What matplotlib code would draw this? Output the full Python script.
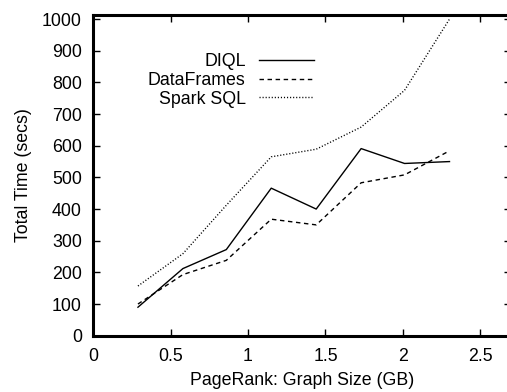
import matplotlib
matplotlib.use("Agg")
import matplotlib.pyplot as plt

plt.rcParams['font.family'] = ['Liberation Sans', 'DejaVu Sans']

sizes = [0.29, 0.58, 0.86, 1.15, 1.44, 1.73, 2.01, 2.30]
diql = [90, 212, 272, 466, 400, 591, 544, 550]
dataframes = [100, 193, 238, 368, 350, 483, 508, 584]
sparksql = [157, 259, 412, 565, 589, 659, 775, 1000]

xticks = [0, 0.5, 1, 1.5, 2, 2.5]
xticklabels = ["0", "0.5", "1", "1.5", "2", "2.5"]
yticks = list(range(0, 1001, 100))

fig = plt.figure(figsize=(5.07, 3.92), dpi=100)
ax = fig.add_axes([93/507, 56.3/392, (511.5-93)/507, (335.7-15.3)/392])

ax.plot(sizes, diql, color='black', lw=1.0, label='DIQL')
ax.plot(sizes, dataframes, color='black', lw=1.0, dashes=(3.2, 2.6), label='DataFrames')
ax.plot(sizes, sparksql, color='black', lw=1.0, dashes=(0.8, 1.4), label='Spark SQL')

ax.set_xlim(0, 2.7)
ax.set_ylim(0, 1012)
ax.set_xticks(xticks)
ax.set_xticklabels(xticklabels)
ax.set_yticks(yticks)
ax.tick_params(direction='in', length=5, width=1, top=True, right=True,
               labelsize=12.8)
ax.tick_params(axis='x', pad=9)
ax.tick_params(axis='y', pad=8)
for s in ax.spines.values():
    s.set_linewidth(2.2)

ax.set_xlabel('PageRank: Graph Size (GB)', fontsize=12.8, labelpad=5)
ax.set_ylabel('Total Time (secs)', fontsize=12.8, labelpad=7)

leg = ax.legend(loc='upper right', bbox_to_anchor=(314/507, 1 - 53/392),
                bbox_transform=fig.transFigure, frameon=False,
                fontsize=12.8, markerfirst=False, handlelength=3.1,
                labelspacing=0.1, handletextpad=0.75, borderpad=0,
                borderaxespad=0)
for t in leg.get_texts():
    t.set_ha('right')
leg._legend_box.align = 'right'

fig.savefig('out.png', dpi=100)
